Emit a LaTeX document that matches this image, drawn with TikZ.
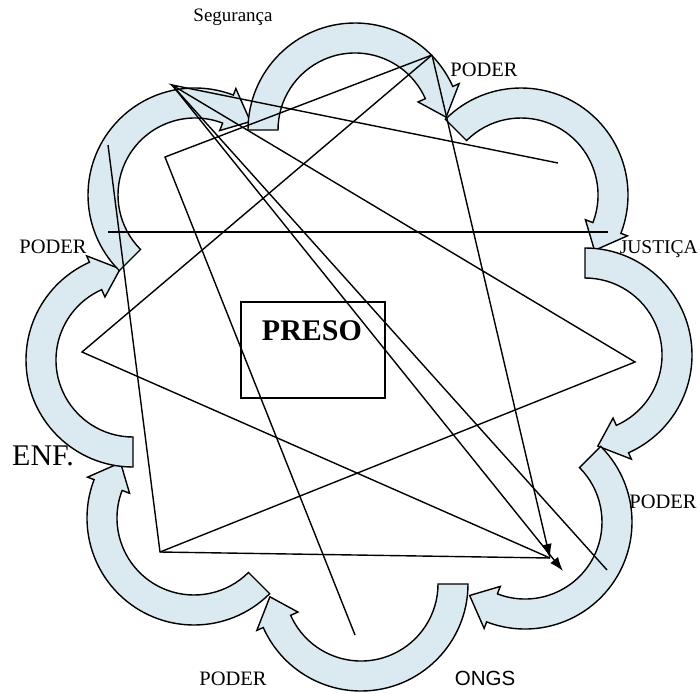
\documentclass[tikz,border=0pt]{standalone}
\usepackage{fontspec}
\setmainfont{Liberation Serif}
\newfontfamily\sansf{Liberation Sans}
\usetikzlibrary{calc,arrows.meta}
\definecolor{lobefill}{RGB}{219,234,240}
\begin{document}
\begin{tikzpicture}[x=1pt,y=-1pt,
  lobe/.style={fill=lobefill,draw=black,line width=1.4pt,line join=miter},
  ln/.style={draw=black,line width=1.4pt},
  tip/.style={-{Latex[length=14pt,width=10pt]}},
  lbl/.style={inner sep=0pt,anchor=base,font=\fontsize{20.5}{24}\selectfont},
]
\useasboundingbox (0,0) rectangle (700,693);
% ring of eight curved arrows
\foreach \cx/\cy/\d in {194/518/135, 133/360/180, 195/195/225, 355/130/270, 521/195/315, 585/355/360, 525/522/405, 361/584/450}{
  \pgfmathsetmacro\aa{\d-90}
  \pgfmathsetmacro\ab{\d+66}
  \pgfmathsetmacro\ac{\d+82}
  \coordinate (c) at (\cx,\cy);
  \draw[lobe] ($(c)+(\aa:107)$) arc[start angle=\aa, end angle=\ab, radius=107]
    -- ($(c)+(\ab:114)$) -- ($(c)+(\ac:92)$) -- ($(c)+(\ab:69)$) -- ($(c)+(\ab:77)$)
    arc[start angle=\ab, end angle=\aa, radius=77] -- cycle;
}
% vertices
\coordinate (tl) at (172,85);
\coordinate (tp) at (432,55);
\coordinate (e1) at (558,163);
\coordinate (s1) at (108,145);
\coordinate (k1) at (165,157);
\coordinate (lv) at (82,352);
\coordinate (rv) at (635,362);
\coordinate (bl) at (160,552);
\coordinate (ar) at (550,558);
\coordinate (ar2) at (563,571);
\coordinate (e2) at (607,570);
\coordinate (e3) at (355,635);
\coordinate (h1) at (108,232);
\coordinate (h2) at (608,232);
% box
\node[draw,line width=1.3pt,minimum width=144pt,minimum height=96pt,inner sep=0pt] (box) at (313,350) {};
\node[lbl,font=\fontsize{30}{34}\selectfont\bfseries] (preso) at (312,340) {PRESO};
% lines
\draw[ln] (h1) -- (h2);
\draw[ln] (s1) -- (bl) -- (ar);
\draw[ln] (bl) -- (rv) -- (tl) -- (e1);
\draw[ln] (tl) -- (e2);
\draw[ln,tip] (tl) -- (ar2);
\draw[ln] (tp) -- (k1) -- (e3);
\draw[ln] (tp) -- (lv) -- (ar);
\draw[ln,tip] (tp) -- (ar);
% labels
\node[lbl,font=\fontsize{19}{22}\selectfont] (seg) at (233,22) {Segurança};
\node[lbl] (p1) at (484,76) {PODER};
\node[lbl] (p2) at (53,253) {PODER};
\node[lbl,anchor=base east,font=\fontsize{19.5}{23}\selectfont] (jus) at (698,253) {JUSTIÇA};
\node[lbl,anchor=base west,font=\fontsize{30}{34}\selectfont] (enf) at (12,465) {ENF.};
\node[lbl] (p3) at (663,508) {PODER};
\node[lbl] (p4) at (233,685) {PODER};
\node[lbl,font=\fontsize{20.5}{24}\selectfont\sansf] (ongs) at (485,685) {ONGS};
\end{tikzpicture}
\end{document}
